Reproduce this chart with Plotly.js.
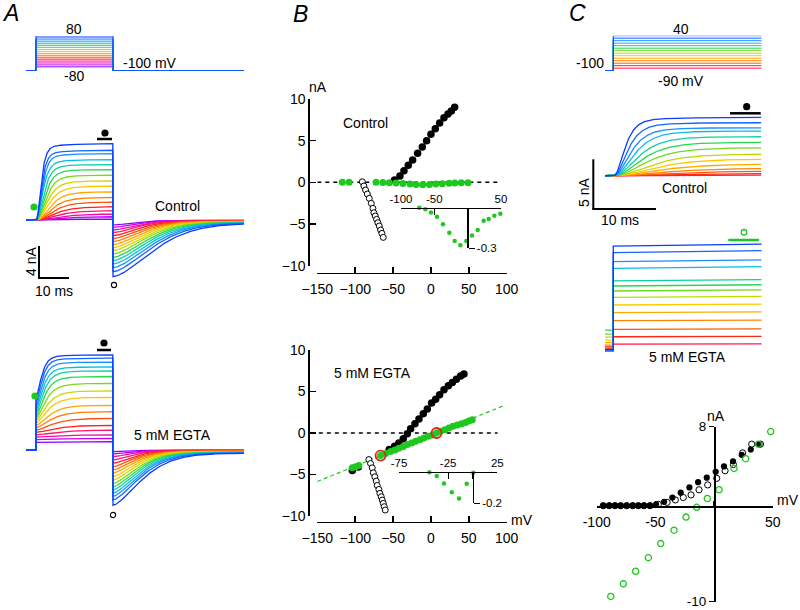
<!DOCTYPE html>
<html><head><meta charset="utf-8">
<script src="https://cdn.plot.ly/plotly-3.0.1.min.js"></script>
<style>html,body{margin:0;padding:0;background:#fff}#chart{width:800px;height:610px}</style>
</head><body><div id="chart"></div>
<script>
// ================= DATA =================
// Panel A: step potentials (mV), holding -100 mV
const aSteps = [-80,-70,-60,-50,-40,-30,-20,-10,0,10,20,30,40,50,60,70,80];
const aHold = -100;
// Control: steady-state outward current, activation time constant, tail peak, tail time constant
const aCtrlSteady  = [0.12,0.42,0.75,1.17,1.67,2.25,2.83,3.54,4.25,4.92,5.63,6.33,6.96,7.58,8.33,8.75,9.58];
const aCtrlTau     = [6.0,5.5,5.0,4.6,4.2,3.8,3.4,3.1,2.8,2.5,2.2,1.95,1.7,1.5,1.35,1.2,1.1];
const aCtrlTail    = [0.63,0.92,1.25,1.58,1.96,2.33,2.71,3.08,3.46,3.83,4.25,4.67,5.08,5.5,5.96,6.46,7.08];
const aCtrlTailTau = [9,9.5,10,10.5,11,11.5,12,12.5,13,13.5,14,14.5,15,15.5,16,16.5,17.3];
// 5 mM EGTA
const aEgtaInst    = [0.95,1.3,1.6,1.9,2.2,2.5,2.8,3.1,3.4,3.7,4.0,4.3,4.7,5.1,5.5,6.0,6.6];
const aEgtaSteady  = [1.04,1.46,1.9,2.5,3.1,3.96,4.8,5.6,6.6,7.4,8.33,9.2,9.9,10.4,11.0,11.5,11.9];
const aEgtaTau     = [7,6.5,6,5.5,5,4.5,4,3.6,3.2,2.9,2.6,2.3,2.1,1.9,1.75,1.6,1.5];
const aEgtaTail    = [0.2,0.5,0.83,1.25,1.67,2.1,2.5,2.9,3.33,3.75,4.2,4.6,5.0,5.4,5.8,6.25,6.9];
const aEgtaTailTau = [7,7.4,7.7,8,8.4,8.7,9,9.4,9.7,10,10.4,10.7,11,11.4,11.7,12.1,12.6];

// Panel B, control: I-V (mV, nA)
const bCtrlActV  = [-48,-40.9,-35.6,-29.9,-24.2,-17.6,-11.4,-5.7,0,5.7,11.5,17.2,22.5,26.9,31.3];
const bCtrlActI  = [0.28,0.76,1.4,2.04,2.68,3.48,4.24,5.0,5.76,6.44,7.12,7.76,8.2,8.56,9.0];
const bCtrlTailV = [-90.6,-88.5,-86.3,-84,-81.4,-78.7,-76.6,-75.3,-73.5,-71.7,-70,-68.2,-66.4,-64.7,-62.9];
const bCtrlTailI = [0.07,-0.44,-0.92,-1.4,-1.92,-2.52,-3.12,-3.65,-4.04,-4.44,-4.84,-5.24,-5.72,-6.12,-6.6];
const bCtrlInstV = [-117,-108,-72.5,-63.5,-55,-46,-37,-27.5,-19.5,-11,-2,6.5,15,24,31.5,40,49];
const bCtrlInstI = [0,0,0,-0.012,-0.035,-0.067,-0.123,-0.185,-0.246,-0.278,-0.246,-0.205,-0.165,-0.096,-0.084,-0.059,-0.044];
// Panel B, 5 mM EGTA
const bEgtaActV  = [-103.8,-95.9,-55,-48,-42.3,-36.5,-31.2,-26.8,-21.1,-15.8,-10.1,-4.8,0.9,6.2,11.5,17.2,23,28.3,33.6,39.2,43.6];
const bEgtaActI  = [-4.53,-4.1,-2.0,-1.6,-1.2,-0.68,-0.08,0.52,1.12,1.68,2.32,2.88,3.6,4.08,4.6,5.2,5.68,6.08,6.48,6.88,7.12];
const bEgtaTailV = [-81.9,-79.7,-77.5,-76.1,-74,-72.2,-70.9,-68.7,-67.4,-65.6,-64.3,-62.9,-61.6,-60.3];
const bEgtaTailI = [-3.2,-3.68,-4.2,-4.8,-5.28,-5.8,-6.32,-6.8,-7.28,-7.68,-8.08,-8.48,-8.88,-9.28];
const bEgtaInstV = [-103.9,-99.5,-95.1,-66.5,-59.9,-53.3,-47.6,-42.3,-36.6,-31.3,-25.6,-20.3,-14.6,-9.3,-3.6,1.7,7.4,12.7,18.4,23.7,29,34.7,40.4,45.7,50.1,54.5];
const bEgtaInstI = [-4.2,-4.08,-3.92,-2.72,-2.48,-2.24,-2.04,-1.84,-1.64,-1.4,-1.2,-1.0,-0.8,-0.6,-0.4,-0.24,0,0.2,0.4,0.6,0.8,0.96,1.12,1.28,1.44,1.6];
const bEgtaMarkedV = [-66.5, 7.4];
const bEgtaFitV = [-150, 96];
const bEgtaFitI = [-5.85, 3.3];
const bEgtaInsetV = [-51.8,-44.1,-36.6,-29.2,-21.3,-13.9,-6.1,0.6,8.4];
const bEgtaInsetI = [0.004,-0.004,-0.027,-0.074,-0.13,-0.17,-0.076,-0.006,0.006];

// Panel C: steps (mV), holding -100 mV
const cSteps = [-90,-80,-70,-60,-50,-40,-30,-20,-10,0,10,20,30,40];
const cHold = -100;
const cCtrlSteady = [0.07,0.23,0.47,0.74,1.17,1.68,2.18,2.82,3.36,3.93,4.5,4.83,5.34,5.87];
const cCtrlTau    = [7,6.5,6,5.5,5,4.5,4,3.5,3,2.6,2.2,1.8,1.5,1.2];
const cEgtaLevel  = [0.6,1.34,2.08,2.95,3.76,4.53,5.3,5.94,6.44,6.95,8.22,8.89,9.8,10.45];
const cEgtaPre    = [0.1,0.2,0.35,0.5,0.75,1.0,1.3,1.6,2.0,0.05,-0.1,-0.1,0,0.05];
// Panel C I-V
const cIvCtrlV = [-94.4,-89.3,-84.4,-79.6,-74.5,-69.3,-64.5,-59.7,-54.6,-49.4,-42.6,-35.5,-28.4,-21,-13.6,-6.2,1.4,8.5,16.2,23.6,31.3,38.6];
const cIvCtrlI = [-0.14,-0.14,-0.14,-0.14,-0.14,-0.14,-0.14,-0.14,-0.14,0,0.26,0.7,1.2,1.74,2.28,2.75,3.35,3.9,4.43,5.1,5.65,6.2];
const cIvOpenV = [-94.4,-89.3,-84.4,-79.6,-74.5,-69.3,-64.5,-59.7,-54.6,-47.5,-40,-33,-26.2,-19.6,-12.8,-5.4,2.3,9.4,16.5,24.4,32.1,39.6];
const cIvOpenI = [-0.14,-0.14,-0.14,-0.14,-0.14,-0.14,-0.14,-0.14,-0.14,0,0.2,0.45,0.7,0.97,1.5,2.0,2.68,3.46,4.1,5.3,6.2,6.2];
const cIvEgtaV = [-88,-77.3,-66.8,-56,-45.5,-34.1,-23.9,-14.8,-5.7,4.3,17,27,37.8,48.3];
const cIvEgtaI = [-9.5,-8.2,-6.9,-5.5,-4.05,-2.67,-1.32,-0.31,0.6,1.5,3.7,4.7,6.2,7.5];

// ================= HELPERS =================
const W = 800, H = 610;
const fx = v => v / W, fy = v => 1 - v / H;
const xd = (a, b) => [a / W, b / W];
const yd = (top, bot) => [1 - bot / H, 1 - top / H];
const FONT = 'Liberation Sans, Arial, Helvetica, sans-serif';
const GREEN = '#1ec81e';

const stops = [[0,[10,60,255]],[0.12,[30,140,255]],[0.2,[0,200,225]],[0.3,[30,215,90]],[0.4,[150,220,0]],
  [0.47,[250,215,0]],[0.57,[255,160,0]],[0.67,[255,95,0]],[0.75,[255,30,30]],[0.83,[255,20,120]],[0.91,[225,0,225]],[1,[140,0,255]]];
function rainbow(t) {
  for (let k = 1; k < stops.length; k++) {
    if (t <= stops[k][0]) {
      const [t0, c0] = stops[k-1], [t1, c1] = stops[k];
      const f = (t - t0) / (t1 - t0);
      return 'rgb(' + c0.map((c, j) => Math.round(c + (c1[j] - c) * f)).join(',') + ')';
    }
  }
  return 'rgb(140,0,255)';
}
const data = [];
function line(x, y, xa, ya, color, width, extra) {
  data.push(Object.assign({type:'scatter', mode:'lines', x, y, xaxis:xa, yaxis:ya,
    line:{color, width}, hoverinfo:'skip', cliponaxis:false}, extra || {}));
}
function pts(x, y, xa, ya, marker) {
  data.push({type:'scatter', mode:'markers', x, y, xaxis:xa, yaxis:ya, marker, hoverinfo:'skip', cliponaxis:false});
}

// ================= PANEL A =================
const aT0 = 3.33, aT1 = 29, aEnd = 72.67;
const nA = aSteps.length;
// voltage protocol
aSteps.forEach((v, i) => {
  line([0, aT0, aT0, aT1, aT1, aEnd], [aHold, aHold, v, v, aHold, aHold], 'x', 'y', rainbow((nA-1-i)/(nA-1)), 1);
});
// current traces
function sweep(ss, inst, tau, pw, slowFrac, tl, tt, tp, axX, axY, color) {
  const xs = [0, aT0], ys = [0, 0];
  for (let t = aT0; t <= aT1 + 1e-9; t += 0.1) {
    const s = t - aT0;
    const act = (1 - slowFrac) * Math.pow(1 - Math.exp(-s / tau), pw) + slowFrac * (1 - Math.exp(-s / 10));
    xs.push(t); ys.push(inst + (ss - inst) * act);
  }
  const a = 0.06 * tl;
  for (let t = aT1; t <= aEnd + 1e-9; t += 0.2) {
    const s = t - aT1;
    xs.push(t); ys.push(-(tl - a) * Math.exp(-Math.pow(s / tt, tp)) - a);
  }
  line(xs, ys, axX, axY, color, 1.3);
}
aSteps.forEach((v, i) => {
  const c = rainbow((nA-1-i)/(nA-1));
  sweep(aCtrlSteady[i], 0, aCtrlTau[i], 3, 0.05, aCtrlTail[i], aCtrlTailTau[i], 1.6, 'x2', 'y2', c);
});
aSteps.forEach((v, i) => {
  const c = rainbow((nA-1-i)/(nA-1));
  sweep(aEgtaSteady[i], aEgtaInst[i], aEgtaTau[i], 2, 0.04, aEgtaTail[i], aEgtaTailTau[i], 1.5, 'x3', 'y3', c);
});

// ================= PANEL B =================
const mGreen = {color:GREEN, size:7};
const mBlack = {color:'#000', size:7.5};
const mOpen  = {color:'#fff', size:6, line:{color:'#000', width:1}};
// top (control)
pts(bCtrlTailV, bCtrlTailI, 'x4', 'y4', mOpen);
pts(bCtrlActV, bCtrlActI, 'x4', 'y4', mBlack);
pts(bCtrlInstV, bCtrlInstI, 'x4', 'y4', mGreen);
const insC = bCtrlInstV.map((v, i) => [v, bCtrlInstI[i]]).filter(p => p[0] >= -100);
pts(insC.map(p => p[0]), insC.map(p => p[1]), 'x5', 'y5', {color:GREEN, size:4.5});
// bottom (EGTA)
line(bEgtaFitV, bEgtaFitI, 'x6', 'y6', GREEN, 1.2, {line:{color:GREEN, width:1.2, dash:'4px,3px'}});
pts(bEgtaTailV, bEgtaTailI, 'x6', 'y6', mOpen);
pts(bEgtaActV, bEgtaActI, 'x6', 'y6', mBlack);
pts(bEgtaInstV, bEgtaInstI, 'x6', 'y6', mGreen);
pts(bEgtaMarkedV, bEgtaMarkedV.map(v => bEgtaInstI[bEgtaInstV.indexOf(v)]), 'x6', 'y6',
    {symbol:'circle-open', size:10, color:'#e8201a', line:{width:1.8, color:'#e8201a'}});
pts(bEgtaInsetV, bEgtaInsetI, 'x7', 'y7', {color:GREEN, size:4.5});

// ================= PANEL C =================
const cT0 = 1.32, cEnd = 25;
const nC = cSteps.length;
const cCol = i => rainbow((nC-1-i)/(nC-1) * 0.8);
cSteps.forEach((v, i) => {
  line([0, cT0, cT0, cEnd], [cHold, cHold, v, v], 'x8', 'y8', cCol(i), 1);
});
cSteps.forEach((v, i) => {
  const xs = [0, cT0], ys = [0, 0];
  for (let t = cT0; t <= cEnd + 1e-9; t += 0.1) {
    const s = t - cT0;
    xs.push(t);
    ys.push(cCtrlSteady[i] * (0.93 * Math.pow(1 - Math.exp(-s / cCtrlTau[i]), 3) + 0.07 * (1 - Math.exp(-s / 6))));
  }
  line(xs, ys, 'x9', 'y9', cCol(i), 1.3);
});
cSteps.forEach((v, i) => {
  const L = cEgtaLevel[i];
  line([0, cT0, cT0, cEnd], [cEgtaPre[i], cEgtaPre[i], L, L * 1.02], 'x10', 'y10', cCol(i), 1.3);
});
const mCsz = 6.2;
pts(cIvOpenV, cIvOpenI, 'x11', 'y11', {color:'#fff', size:mCsz, line:{color:'#000', width:1}});
pts(cIvCtrlV, cIvCtrlI, 'x11', 'y11', {color:'#000', size:mCsz});
pts(cIvEgtaV, cIvEgtaI, 'x11', 'y11', {symbol:'circle-open', color:GREEN, size:mCsz, line:{color:GREEN, width:1.3}});

// ================= AXES =================
const hid = (dom, range, anchor) => ({domain:dom, range, visible:false, anchor, fixedrange:true});
const axBase = {showline:true, linecolor:'#000', linewidth:1.5, ticks:'inside', ticklen:6, tickwidth:1.5,
  tickcolor:'#000', showgrid:false, zeroline:false, fixedrange:true, anchor:'free', ticklabeloverflow:'allow',
  tickfont:{size:14, family:FONT}};
const ax = (o) => Object.assign({}, axBase, o);

const layout = {
  width:W, height:H, margin:{l:0, r:0, t:0, b:0}, paper_bgcolor:'#fff', plot_bgcolor:'rgba(0,0,0,0)',
  showlegend:false, font:{family:FONT, size:14, color:'#000'},
  // A
  xaxis: hid(xd(26,244), [0,aEnd], 'y'),   yaxis: hid(yd(36,70.7), [-100,80], 'x'),
  xaxis2: hid(xd(26,244), [0,aEnd], 'y2'), yaxis2: hid(yd(125,290), [-8.75,11.875], 'x2'),
  xaxis3: hid(xd(26,244), [0,aEnd], 'y3'), yaxis3: hid(yd(340,520), [-8.75,13.75], 'x3'),
  // B top
  xaxis4: ax({domain:xd(317.3,506.7), range:[-150,100], position:fy(272.7), tickvals:[-150,-100,-50,0,50,100], ticklabelstandoff:3}),
  yaxis4: ax({domain:yd(99,265.7), range:[-10,10], position:fx(308.3), tickvals:[-10,-5,0,5,10]}),
  xaxis5: ax({domain:xd(401,501), range:[-100,50], position:fy(207.7), side:'top', linewidth:1.2, tickwidth:1.2, ticklen:6,
    tickvals:[-100,-50,0,50], ticktext:['-100','-50','','50'], tickfont:{size:11.5, family:FONT}}),
  yaxis5: ax({domain:yd(207.7,248.3), range:[-0.3,0], position:fx(467.3), side:'right', ticks:'outside', linewidth:1.2, tickwidth:1.2, ticklen:6,
    tickvals:[-0.3], ticktext:['-0.3'], tickfont:{size:11.5, family:FONT}}),
  // B bottom
  xaxis6: ax({domain:xd(317.3,506.7), range:[-150,100], position:fy(521.7), tickvals:[-150,-100,-50,0,50,100], ticklabelstandoff:3}),
  yaxis6: ax({domain:yd(350,516), range:[-10,10], position:fx(308.3), tickvals:[-10,-5,0,5,10]}),
  xaxis7: ax({domain:xd(399,497.3), range:[-75,25], position:fy(471.7), side:'top', linewidth:1.2, tickwidth:1.2, ticklen:6,
    tickvals:[-75,-25,0,25], ticktext:['-75','-25','','25'], tickfont:{size:11.5, family:FONT}}),
  yaxis7: ax({domain:yd(471.7,503.3), range:[-0.2,0], position:fx(472.7), side:'right', ticks:'outside', linewidth:1.2, tickwidth:1.2, ticklen:6,
    tickvals:[-0.2], ticktext:['-0.2'], tickfont:{size:11.5, family:FONT}}),
  // C
  xaxis8: hid(xd(605,761.7), [0,cEnd], 'y8'),  yaxis8: hid(yd(35.7,70.7), [-100,40], 'x8'),
  xaxis9: hid(xd(605,761.7), [0,cEnd], 'y9'),  yaxis9: hid(yd(100,215), [-3.95,7.62], 'x9'),
  xaxis10: hid(xd(605,761.7), [0,cEnd], 'y10'), yaxis10: hid(yd(235,360), [-1.0,11.57], 'x10'),
  xaxis11: ax({domain:xd(596.7,772.7), range:[-100,50], position:fy(506.3), ticklen:5,
    tickvals:[-100,-50,0,50], ticktext:['-100','-50','','50'], ticklabelstandoff:2}),
  yaxis11: ax({domain:yd(426.7,601.5), range:[-10.02,8], position:fx(714), ticks:'outside', ticklen:5,
    tickvals:[-10,8], ticktext:['-10','8'], tickfont:{size:13.5, family:FONT}}),
  shapes: [], annotations: []
};

// ---- decorations (paper coordinates, in pixels) ----
function seg(x0, y0, x1, y1, color, width, dash) {
  layout.shapes.push({type:'line', xref:'paper', yref:'paper', x0:fx(x0), y0:fy(y0), x1:fx(x1), y1:fy(y1),
    line:{color, width, dash:dash || 'solid'}});
}
function dot(cx, cy, r, fill, stroke, w) {
  layout.shapes.push({type:'circle', xref:'paper', yref:'paper', x0:fx(cx-r), x1:fx(cx+r), y0:fy(cy+r), y1:fy(cy-r),
    fillcolor:fill, line:{color:stroke, width:w}});
}
function txt(s, x, y, size, extra) {
  layout.annotations.push(Object.assign({text:s, xref:'paper', yref:'paper', x:fx(x), y:fy(y), showarrow:false,
    xanchor:'center', yanchor:'middle', font:{size:size || 14, family:FONT, color:'#000'}}, extra || {}));
}
// dashed zero lines in B (data refs)
layout.shapes.push({type:'line', xref:'x4', yref:'y4', x0:-150, x1:88, y0:0, y1:0, line:{color:'#000', width:1.5, dash:'4px,4px'}, layer:'below'});
layout.shapes.push({type:'line', xref:'x6', yref:'y6', x0:-148, x1:88, y0:0, y1:0, line:{color:'#000', width:1.5, dash:'4px,4px'}, layer:'below'});

// Panel A markers, bars and scale bar
dot(34, 207, 3.6, GREEN, GREEN, 0);
dot(105, 133, 3.6, '#000', '#000', 0);
seg(97, 139, 112, 139, '#000', 2.5);
dot(114, 285, 2.6, '#fff', '#000', 1.1);
dot(35, 396, 3.6, GREEN, GREEN, 0);
dot(104, 343, 3.6, '#000', '#000', 0);
seg(97, 350, 111, 350, '#000', 2.5);
dot(113, 515, 2.6, '#fff', '#000', 1.1);
seg(39, 246, 39, 278, '#000', 2);
seg(38, 278, 69, 278, '#000', 2);
// Panel C markers, bars, scale bar
dot(746.7, 106.7, 3.6, '#000', '#000', 0);
seg(730, 113.3, 760.7, 113.3, '#000', 2.5);
dot(744, 232.3, 2.8, 'rgba(0,0,0,0)', GREEN, 1.3);
seg(728.3, 240, 759, 240, GREEN, 2.5);
seg(593.3, 159.3, 593.3, 209, '#000', 2);
seg(592.3, 209, 656, 209, '#000', 2);

// Texts
txt('<i>A</i>', 10, 13, 23);
txt('<i>B</i>', 300, 14, 23);
txt('<i>C</i>', 577, 13, 23);
txt('80', 74, 29, 14);
txt('-80', 74, 76, 14);
txt('-100 mV', 150, 63, 14);
txt('Control', 177, 206, 14);
txt('5 mM EGTA', 172, 435, 14);
txt('4 nA', 31, 262, 14, {textangle:-90});
txt('10 ms', 54, 291, 14);
txt('nA', 318, 87, 14);
txt('Control', 365, 123, 14);
txt('5 mM EGTA', 372, 373, 14);
txt('mV', 522, 520, 14);
txt('40', 681, 29, 14);
txt('-100', 590, 63, 14);
txt('-90 mV', 681, 81, 14);
txt('Control', 684, 188, 14);
txt('5 nA', 584, 193, 14, {textangle:-90});
txt('10 ms', 620, 220, 14);
txt('5 mM EGTA', 687, 357, 14);
txt('nA', 716, 416, 14);
txt('mV', 788, 500, 14);

Plotly.newPlot('chart', data, layout, {staticPlot:true, displayModeBar:false});
</script>
</body></html>
